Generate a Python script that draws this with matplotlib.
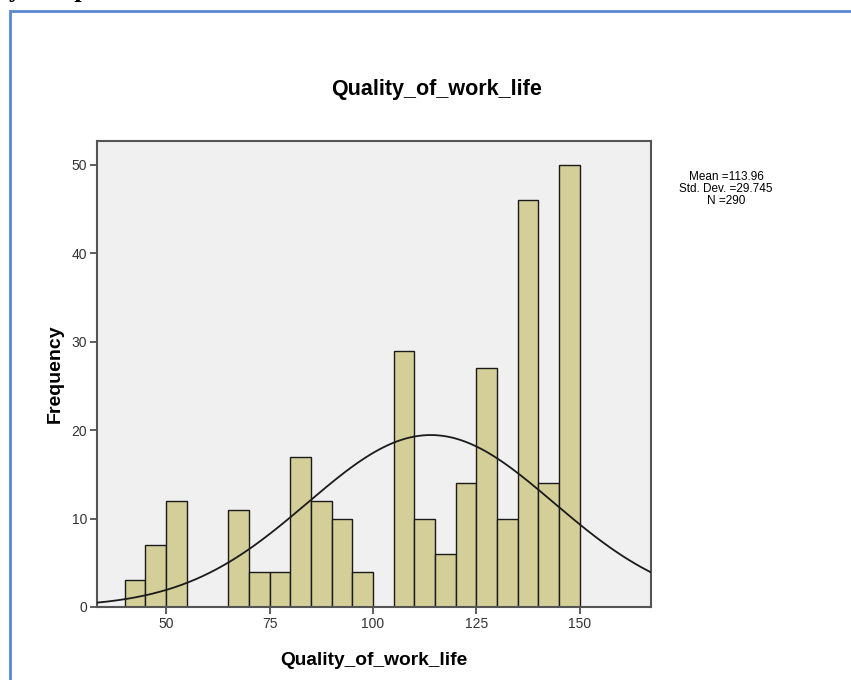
import numpy as np
import matplotlib.pyplot as plt
from matplotlib.patches import Rectangle

plt.rcParams['font.family'] = ['Liberation Sans', 'DejaVu Sans']

# histogram bins (lower edges, width 5) and counts
bin_edges = [40, 45, 50, 55, 60, 65, 70, 75, 80, 85, 90, 95, 100, 105, 110,
             115, 120, 125, 130, 135, 140, 145, 150]
counts = [3, 7, 12, 0, 0, 11, 4, 4, 17, 12, 10, 4, 0, 29, 10, 6, 14, 27, 10,
          46, 14, 50]

mean = 113.96
std = 29.745
n = 290
bin_width = 5

fig = plt.figure(figsize=(8.51, 6.80), dpi=100)

# blue frame around the output box
fig.add_artist(Rectangle((10 / 851, -0.05), 1.0, 1 - 11 / 680 + 0.05,
                         transform=fig.transFigure, fill=False,
                         edgecolor='#5b86d4', linewidth=2, clip_on=False))
# bit of page text cut off above the box (only descenders show)
fig.text(0.011, 1 + 2.5 / 680, "y samp", fontsize=19, fontweight='bold',
         family='Liberation Serif', va='baseline', ha='left')

ax = fig.add_axes([97 / 851, 1 - 607 / 680, (651 - 97) / 851, (607 - 141) / 680])
ax.set_facecolor('#f0f0f0')

ax.bar(bin_edges[:-1], counts, width=bin_width, align='edge',
       color='#d4cf98', edgecolor='#1a1a1a', linewidth=1.0, zorder=2)

xs = np.linspace(33.3, 167.2, 400)
ys = n * bin_width * np.exp(-0.5 * ((xs - mean) / std) ** 2) / (std * np.sqrt(2 * np.pi))
ax.plot(xs, ys, color='#1a1a1a', linewidth=1.3, zorder=3)

ax.set_xlim(33.3, 167.2)
ax.set_ylim(0, 52.7)
ax.set_xticks([50, 75, 100, 125, 150])
ax.set_yticks([0, 10, 20, 30, 40, 50])
ax.tick_params(direction='out', length=5, width=1.2, color='#444444',
               labelsize=10, labelcolor='#333333', pad=2)
for s in ax.spines.values():
    s.set_color('#555555')
    s.set_linewidth(1.5)

ax.set_xlabel("Quality_of_work_life", fontsize=13.8, fontweight='bold', va='center')
ax.xaxis.set_label_coords(0.5, -0.114)
ax.set_ylabel("Frequency", fontsize=14, fontweight='bold', va='center')
ax.yaxis.set_label_coords(-0.076, 0.5)

fig.text(437 / 851, 1 - 90 / 680, "Quality_of_work_life", fontsize=15.5,
         fontweight='bold', ha='center', va='center')

fig.text(726 / 851, 1 - 189 / 680,
         "Mean =113.96\nStd. Dev. =29.745\nN =290",
         fontsize=8.5, ha='center', va='center', linespacing=0.95)

fig.savefig("out.png", dpi=100)
